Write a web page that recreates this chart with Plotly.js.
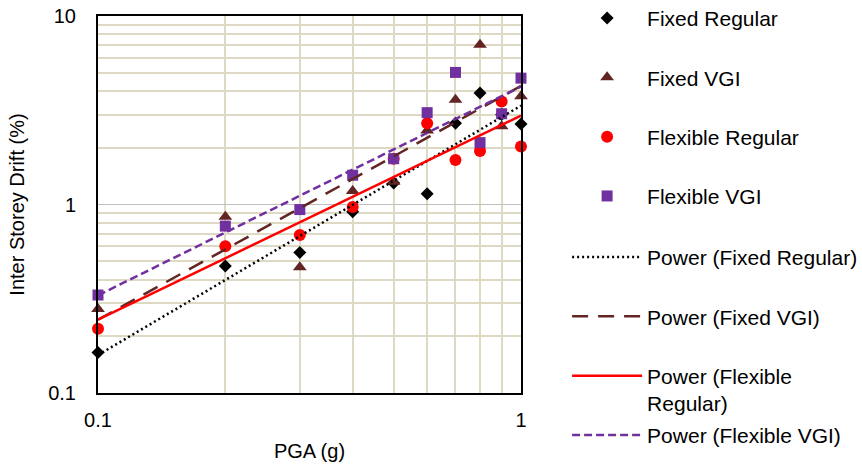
<!DOCTYPE html>
<html>
<head>
<meta charset="utf-8">
<script src="https://cdn.plot.ly/plotly-3.0.1.min.js"></script>
<style>html,body{margin:0;padding:0;background:#fff;}#chart{width:862px;height:469px;}</style>
</head>
<body>
<div id="chart"></div>
<script>
// Data
const pga = [0.1, 0.2, 0.3, 0.4, 0.5, 0.6, 0.7, 0.8, 0.9, 1.0];
const fixedRegular = [0.164, 0.472, 0.557, 0.914, 1.30, 1.14, 2.70, 3.90, 3.00, 2.67];
const fixedVGI = [0.279, 0.86, 0.464, 1.18, 1.32, 2.47, 3.59, 7.03, 2.60, 3.75];
const flexibleRegular = [0.219, 0.60, 0.689, 0.97, 1.75, 2.70, 1.72, 1.92, 3.52, 2.03];
const flexibleVGI = [0.331, 0.768, 0.94, 1.43, 1.75, 3.07, 5.02, 2.13, 3.03, 4.68];
const seriesNames = ["Fixed Regular", "Fixed VGI", "Flexible Regular", "Flexible VGI"];
const trendNames = ["Power (Fixed Regular)", "Power (Fixed VGI)", "Power (Flexible<br>Regular)", "Power (Flexible VGI)"];
const xMajorTicks = [0.1, 1];
const xMinorTicks = [0.2, 0.3, 0.4, 0.5, 0.6, 0.7, 0.8, 0.9];
const yMajorTicks = [0.1, 1, 10];
const yMinorTicks = [0.2, 0.3, 0.4, 0.5, 0.6, 0.7, 0.8, 0.9, 2, 3, 4, 5, 6, 7, 8, 9];

const allSeries = [fixedRegular, fixedVGI, flexibleRegular, flexibleVGI];
const colors = ["#000000", "#632523", "#FF0000", "#7030A0"];
const symbols = ["diamond", "triangle-up", "circle", "square"];
const sizes = [10, 12, 12, 11];
const dashes = ["2px,3px", "16px,10px", "solid", "8px,4px"];

// Power-law trendline (least squares in log-log space, like Excel)
function powerFit(xs, ys) {
  const lx = xs.map(Math.log), ly = ys.map(Math.log);
  const n = lx.length;
  const mx = lx.reduce((a, b) => a + b, 0) / n, my = ly.reduce((a, b) => a + b, 0) / n;
  let sxy = 0, sxx = 0;
  for (let i = 0; i < n; i++) { sxy += (lx[i] - mx) * (ly[i] - my); sxx += (lx[i] - mx) ** 2; }
  const b = sxy / sxx, a = Math.exp(my - b * mx);
  return x => a * Math.pow(x, b);
}

const traces = [];
allSeries.forEach((ys, i) => {
  traces.push({
    x: pga, y: ys, type: "scatter", mode: "markers", name: seriesNames[i],
    legendgroup: "g" + i, legend: "legend", cliponaxis: false,
    marker: {symbol: symbols[i], size: sizes[i], color: colors[i]}
  });
});
allSeries.forEach((ys, i) => {
  const f = powerFit(pga, ys);
  const xs = [pga[0], pga[pga.length - 1]];
  traces.push({
    x: xs, y: xs.map(f), type: "scatter", mode: "lines", name: trendNames[i],
    legendgroup: "t" + i, legend: i === 3 ? "legend3" : "legend2",
    line: {color: colors[i], width: 2.5, dash: dashes[i]}
  });
});

const font = {family: "Liberation Sans, Arial, sans-serif", size: 20, color: "#000"};
const legendFont = {family: "Liberation Sans, Arial, sans-serif", size: 21, color: "#000"};
function legendAt(y) {
  return {
    x: 1.109, xanchor: "left", y: y, yanchor: "top",
    font: legendFont, itemwidth: 70, tracegroupgap: 29, traceorder: "grouped",
    valign: "top", bgcolor: "rgba(0,0,0,0)"
  };
}
const layout = {
  width: 862, height: 469,
  margin: {l: 98, r: 341, t: 16, b: 76, autoexpand: false},
  paper_bgcolor: "#fff", plot_bgcolor: "#fff",
  font: font,
  showlegend: true,
  legend: legendAt(1.048),
  legend2: legendAt(0.414),
  legend3: legendAt(-0.058),
  xaxis: {
    type: "log", range: [-1, 0],
    tickvals: xMajorTicks, ticktext: xMajorTicks.map(String),
    showgrid: false, zeroline: false,
    showline: true, mirror: true, linecolor: "#000", linewidth: 2,
    ticks: "", ticklabelstandoff: 8,
    minor: {tickvals: xMinorTicks, showgrid: true, gridcolor: "#DDD9C3", gridwidth: 2, ticks: ""},
    title: {text: "PGA (g)", font: font, standoff: 14}
  },
  yaxis: {
    type: "log", range: [-1, 1],
    tickvals: yMajorTicks, ticktext: yMajorTicks.map(String),
    showgrid: true, gridcolor: "#BFBFBF", gridwidth: 1.5, zeroline: false,
    showline: true, mirror: true, linecolor: "#000", linewidth: 2,
    ticks: "", ticklabelstandoff: 16,
    minor: {tickvals: yMinorTicks, showgrid: true, gridcolor: "#DDD9C3", gridwidth: 2, ticks: ""},
    title: {text: "Inter Storey Drift (%)", font: font, standoff: 18}
  }
};

Plotly.newPlot("chart", traces, layout, {displayModeBar: false, staticPlot: true});
</script>
</body>
</html>
